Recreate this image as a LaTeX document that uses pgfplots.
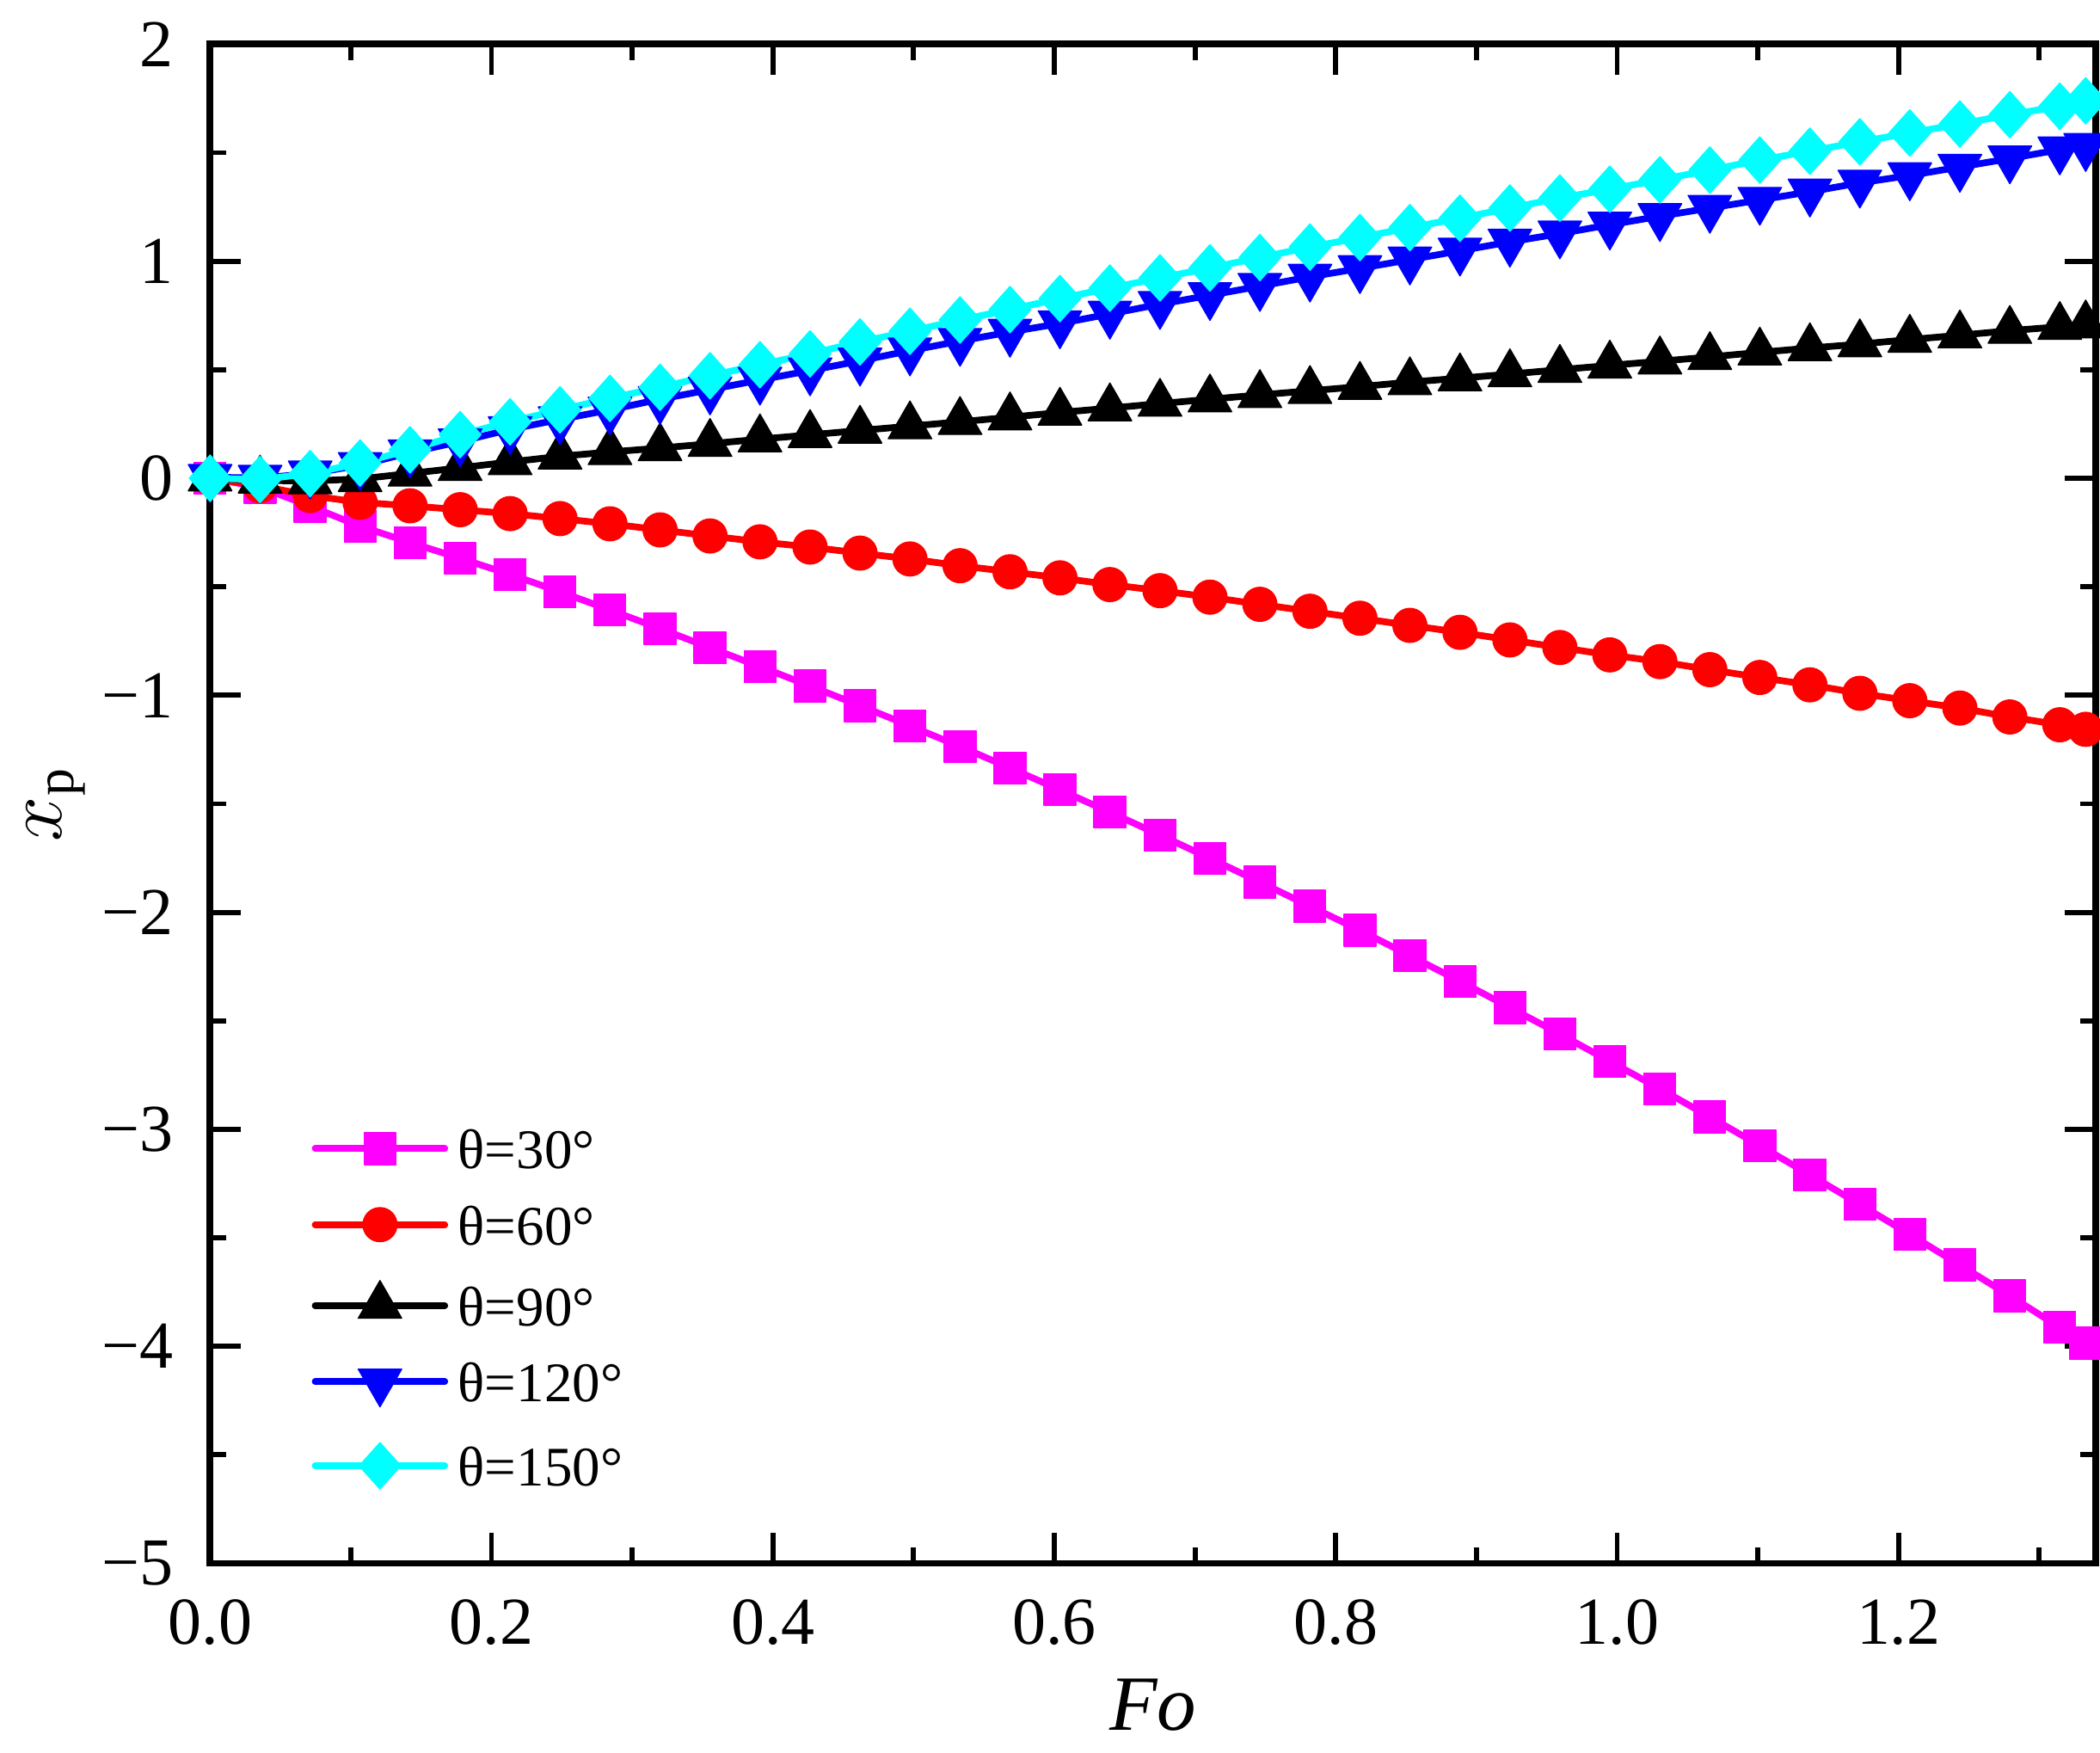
\documentclass[border=0pt]{standalone}
\usepackage{fontspec}
\setmainfont{Liberation Serif}
\usepackage{pgfplots}
\usepackage{pgfplotstable}
\pgfplotsset{compat=1.18}
\definecolor{cMag}{RGB}{255,0,255}
\definecolor{cRed}{RGB}{255,0,0}
\definecolor{cBlue}{RGB}{0,0,255}
\definecolor{cCyan}{RGB}{0,255,255}
\pgfplotstableread{
x m r b u c
0.0000 0.000 0.000 0.000 0.005 0.000
0.0355 -0.041 -0.035 -0.010 0.001 -0.006
0.0711 -0.129 -0.080 -0.013 0.021 0.021
0.1066 -0.221 -0.111 -0.003 0.060 0.070
0.1421 -0.296 -0.127 0.022 0.118 0.131
0.1777 -0.369 -0.145 0.048 0.169 0.201
0.2132 -0.443 -0.163 0.075 0.225 0.260
0.2487 -0.523 -0.186 0.101 0.271 0.315
0.2842 -0.607 -0.210 0.121 0.315 0.368
0.3198 -0.693 -0.238 0.139 0.364 0.419
0.3553 -0.781 -0.266 0.159 0.408 0.472
0.3908 -0.868 -0.293 0.180 0.453 0.523
0.4264 -0.957 -0.317 0.200 0.496 0.573
0.4619 -1.048 -0.345 0.220 0.541 0.628
0.4974 -1.141 -0.372 0.240 0.588 0.677
0.5330 -1.236 -0.403 0.260 0.632 0.729
0.5685 -1.335 -0.431 0.281 0.674 0.777
0.6040 -1.436 -0.459 0.303 0.713 0.828
0.6395 -1.539 -0.490 0.323 0.757 0.876
0.6751 -1.644 -0.518 0.344 0.802 0.923
0.7106 -1.751 -0.548 0.364 0.843 0.969
0.7461 -1.861 -0.581 0.384 0.885 1.017
0.7817 -1.972 -0.613 0.403 0.928 1.065
0.8172 -2.083 -0.645 0.422 0.967 1.109
0.8527 -2.200 -0.678 0.443 1.007 1.155
0.8883 -2.318 -0.710 0.461 1.048 1.198
0.9238 -2.439 -0.745 0.480 1.089 1.245
0.9593 -2.561 -0.780 0.500 1.127 1.291
0.9948 -2.687 -0.814 0.520 1.168 1.332
1.0304 -2.813 -0.845 0.539 1.207 1.375
1.0659 -2.943 -0.882 0.559 1.245 1.420
1.1014 -3.075 -0.918 0.580 1.282 1.466
1.1370 -3.210 -0.952 0.600 1.320 1.507
1.1725 -3.346 -0.991 0.618 1.361 1.550
1.2080 -3.484 -1.025 0.639 1.395 1.591
1.2436 -3.625 -1.059 0.659 1.434 1.632
1.2791 -3.767 -1.100 0.680 1.473 1.675
1.3146 -3.913 -1.136 0.698 1.514 1.714
1.3330 -3.985 -1.157 0.705 1.530 1.739
}\datatable
\begin{document}
\begin{tikzpicture}
\path[use as bounding box] (-37.6pt,-33.8pt) rectangle (338.2pt,279.7pt);
\begin{axis}[
  scale only axis,
  width=337.4pt, height=271.8pt,
  xmin=0, xmax=1.34, ymin=-5, ymax=2,
  xtick={0,0.2,0.4,0.6,0.8,1.0,1.2},
  xticklabels={0.0,0.2,0.4,0.6,0.8,1.0,1.2},
  minor xtick={0.1,0.3,0.5,0.7,0.9,1.1,1.3},
  ytick={-5,-4,-3,-2,-1,0,1,2},
  yticklabels={−5,−4,−3,−2,−1,0,1,2},
  minor ytick={-4.5,-3.5,-2.5,-1.5,-0.5,0.5,1.5},
  tick align=inside,
  tick pos=both,
  major tick length=5.5pt,
  minor tick length=2.8pt,
  every tick/.style={black, line width=0.9pt},
  axis line style={line width=1.2pt},
  tick label style={font=\fontsize{12}{14}\selectfont},
  yticklabel style={xshift=-3pt},
  xticklabel style={yshift=-3pt},
  xlabel={\textit{Fo}},
  xlabel style={font=\fontsize{14}{16}\selectfont, at={(axis description cs:0.5,0)}, anchor=center, yshift=-25.4pt},
  ylabel={$x_{\mathrm{p}}$},
  ylabel style={font=\fontsize{14}{16}\selectfont, at={(axis description cs:-0.0818,0.5)}, anchor=center},
  legend image code/.code={
    \draw[mark repeat=2,mark phase=2] plot coordinates {(0pt,0pt) (11.6pt,0pt) (23.2pt,0pt)};
  },
  legend style={at={(axis description cs:0,0)}, anchor=south west, xshift=18pt, yshift=13.1pt,
    draw=none, fill=none, inner sep=0pt, row sep=6.4pt, column sep=1.8pt,
    font=\fontsize{10}{12}\selectfont,
    nodes={inner sep=0pt, text height=7.2pt, text depth=0pt}},
  legend cell align=left,
  every axis plot/.append style={line width=1.2pt, line cap=round, line join=round},
]
\addplot[cMag, mark=square*, mark size=2.85pt, mark options={solid, fill=cMag, line width=0.2pt}] table[x=x, y=m] {\datatable};
\addlegendentry{θ=30°}
\addplot[cRed, mark=*, mark size=3.05pt, mark options={solid, fill=cRed, line width=0.2pt}] table[x=x, y=r] {\datatable};
\addlegendentry{θ=60°}
\addplot[black, mark=triangle*, mark size=4.5pt, mark options={solid, fill=black, line width=0.2pt}] table[x=x, y=b] {\datatable};
\addlegendentry{θ=90°}
\addplot[cBlue, mark=triangle*, mark size=4.5pt, mark options={solid, fill=cBlue, line width=0.2pt, rotate=180}] table[x=x, y=u] {\datatable};
\addlegendentry{θ=120°}
\addplot[cCyan, mark=diamond*, mark size=4.15pt, mark options={solid, fill=cCyan, line width=0.2pt, xscale=1.2}] table[x=x, y=c] {\datatable};
\addlegendentry{θ=150°}
\end{axis}
\end{tikzpicture}
\end{document}
